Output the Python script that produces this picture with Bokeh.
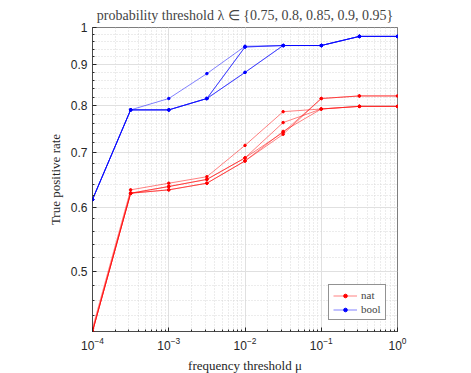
from bokeh.plotting import figure
from bokeh.models import (FixedTicker, CustomJSTickFormatter, Legend, LegendItem, Range1d)
from bokeh.embed import file_html
from bokeh.resources import INLINE

mu = [1e-4, 10**-3.5, 1e-3, 10**-2.5, 1e-2, 10**-1.5, 1e-1, 10**-0.5, 1.0]

nat = [
    [0.425, 0.630, 0.642, 0.654, 0.715, 0.787, 0.793, 0.799, 0.799],
    [0.421, 0.624, 0.636, 0.649, 0.690, 0.763, 0.793, 0.799, 0.799],
    [0.421, 0.624, 0.630, 0.642, 0.684, 0.744, 0.793, 0.799, 0.799],
    [0.421, 0.624, 0.630, 0.642, 0.684, 0.738, 0.817, 0.823, 0.823],
    [0.421, 0.624, 0.636, 0.649, 0.690, 0.742, 0.817, 0.823, 0.823],
]
bool_ = [
    [0.613, 0.791, 0.817, 0.877, 0.948, 0.950, 0.950, 0.975, 0.975],
    [0.613, 0.791, 0.791, 0.817, 0.946, 0.950, 0.950, 0.975, 0.975],
    [0.613, 0.791, 0.791, 0.817, 0.880, 0.950, 0.950, 0.975, 0.975],
    [0.613, 0.791, 0.791, 0.817, 0.880, 0.950, 0.950, 0.975, 0.975],
    [0.613, 0.791, 0.791, 0.817, 0.946, 0.950, 0.950, 0.975, 0.975],
]
y_major = [0.5, 0.6, 0.7, 0.8, 0.9, 1.0]
y_minor = [0.42, 0.44, 0.46, 0.48, 0.52, 0.54, 0.56, 0.58, 0.62, 0.64, 0.66, 0.68,
           0.72, 0.74, 0.76, 0.78, 0.82, 0.84, 0.86, 0.88, 0.92, 0.94, 0.96, 0.98]

SERIF = "Liberation Serif"
SANS = "Liberation Sans"

p = figure(frame_width=305, frame_height=304, x_axis_type="log", y_axis_type="log",
           x_range=Range1d(1e-4, 1), y_range=Range1d(0.421, 1.0),
           output_backend="svg", toolbar_location=None,
           min_border_left=92, min_border_right=40, min_border_top=19, min_border_bottom=10)

p.title.text = "probability threshold \u03bb \u2208 {0.75, 0.8, 0.85, 0.9, 0.95}"
p.title.text_font = SERIF
p.title.text_font_style = "normal"
p.title.text_font_size = "14px"
p.title.align = "center"

p.outline_line_color = "#262626"
p.outline_line_width = 0.6
p.outline_line_alpha = 1

p.yaxis.ticker = FixedTicker(ticks=y_major, minor_ticks=y_minor)
p.yaxis.formatter = CustomJSTickFormatter(code="""
return tick.toFixed(2).replace(/0+$/, '').replace(/\\.$/, '');""")
for ax in p.axis:
    ax.major_label_text_font = SANS
    ax.major_label_text_font_size = "12px"
    ax.major_label_text_color = "#262626"
    ax.axis_label_text_font = SERIF
    ax.axis_label_text_font_style = "normal"
    ax.axis_label_text_font_size = "13px"
    ax.axis_label_text_color = "#262626"
    ax.axis_line_color = "#262626"
    ax.axis_line_width = 0.6
    ax.major_tick_in = 4
    ax.major_tick_out = 0
    ax.minor_tick_in = 2
    ax.minor_tick_out = 0
    ax.major_tick_line_color = "#262626"
    ax.minor_tick_line_color = "#262626"
p.xaxis.axis_label = "frequency threshold \u03bc"
p.yaxis.axis_label = "True positive rate"

for g in p.grid:
    g.grid_line_color = "#e0e0e0"
    g.grid_line_alpha = 1
    g.minor_grid_line_color = "#d6d6d6"
    g.minor_grid_line_dash = "1 2"
    g.minor_grid_line_alpha = 0.9

legend_items = []
for name, data, col in [("nat", nat, "red"), ("bool", bool_, "blue")]:
    first = None
    for series in data:
        l = p.line(mu, series, line_color=col, line_width=0.5)
        s = p.scatter(mu, series, marker="circle", size=2.5, fill_color=col, line_color=col)
        if first is None:
            first = [l, s]
    legend_items.append(LegendItem(label=name, renderers=first))

leg = Legend(items=legend_items, location="bottom_right")
leg.label_text_font = SERIF
leg.label_text_font_size = "11px"
leg.border_line_color = "#262626"
leg.border_line_width = 0.6
leg.glyph_width = 24
leg.glyph_height = 9
leg.label_height = 9
leg.spacing = 2
leg.padding = 4
leg.margin = 11
leg.label_standoff = 4
p.add_layout(leg, "center")

open("out.html", "w").write(file_html(p, INLINE))
